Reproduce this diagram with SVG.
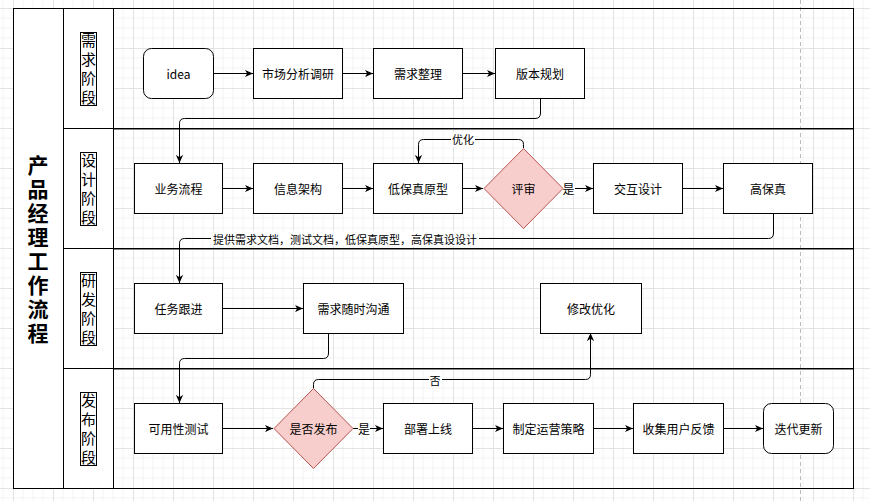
<svg xmlns="http://www.w3.org/2000/svg" width="870" height="501" viewBox="0 0 870 501">
<defs>
<pattern id="grid" x="13" y="8" width="40" height="40" patternUnits="userSpaceOnUse">
<path d="M10,0 V40 M20,0 V40 M30,0 V40 M0,10 H40 M0,20 H40 M0,30 H40" stroke="#f3f3f3" stroke-width="1" fill="none"/>
<path d="M0.5,0 V40 M0,0.5 H40" stroke="#e3e3e3" stroke-width="1" fill="none"/>
</pattern>
<marker id="arr" viewBox="0 0 10 10" refX="9" refY="5" markerWidth="9" markerHeight="9" orient="auto" markerUnits="userSpaceOnUse">
<path d="M0,1 L9,5 L0,9 L2.5,5 Z" fill="#000"/>
</marker>
</defs>
<style>
.t{font-family:"Noto Sans CJK SC","Liberation Sans",sans-serif;font-size:12px;fill:#000;text-anchor:middle;dominant-baseline:central}
.s{font-family:"Noto Sans CJK SC","Liberation Sans",sans-serif;font-size:11px;fill:#000;text-anchor:middle;dominant-baseline:central}
.box{fill:#fff;stroke:#000;stroke-width:1}
.dia{fill:#f8cecc;stroke:#b85450;stroke-width:1}
.c{fill:none;stroke:#000;stroke-width:1;marker-end:url(#arr)}
.lane{font-family:"Noto Sans CJK SC","Liberation Sans",sans-serif;font-size:15px;letter-spacing:4px;fill:#000;text-anchor:middle;dominant-baseline:central;writing-mode:vertical-rl}
.ttl{font-family:"Noto Sans CJK SC","Liberation Sans",sans-serif;font-size:21px;letter-spacing:3px;font-weight:bold;fill:#000;text-anchor:middle;dominant-baseline:central;writing-mode:vertical-rl}
.lb{fill:#fff;stroke:none}
</style>
<rect width="870" height="501" fill="#fff"/>
<rect width="870" height="501" fill="url(#grid)"/>
<line x1="800.5" y1="0" x2="800.5" y2="501" stroke="#bbb" stroke-dasharray="4,3"/>

<g id="pool">
<rect x="13.5" y="8.5" width="100" height="480" fill="#fff" stroke="none"/>
<rect x="13.5" y="8.5" width="840" height="480" fill="none" stroke="#000"/>
<line x1="63.5" y1="8" x2="63.5" y2="488" stroke="#000"/>
<line x1="113.5" y1="8" x2="113.5" y2="488" stroke="#000"/>
<line x1="63" y1="128.5" x2="854" y2="128.5" stroke="#000"/>
<line x1="63" y1="248.5" x2="854" y2="248.5" stroke="#000"/>
<line x1="63" y1="368.5" x2="854" y2="368.5" stroke="#000"/>
<line x1="114" y1="129.5" x2="853" y2="129.5" stroke="#888"/>
<line x1="114" y1="249.5" x2="853" y2="249.5" stroke="#888"/>
<line x1="114" y1="369.5" x2="853" y2="369.5" stroke="#888"/>
<text class="ttl" x="38" y="250.5">产品经理工作流程</text>
</g>

<g id="lane1">
<rect x="80.5" y="32.5" width="16" height="73" fill="#fff" stroke="#000"/>
<text class="lane" x="88.5" y="71">需求阶段</text>
</g>
<g id="lane2">
<rect x="80.5" y="152.5" width="16" height="73" fill="#fff" stroke="#000"/>
<text class="lane" x="88.5" y="191">设计阶段</text>
</g>
<g id="lane3">
<rect x="80.5" y="272.5" width="16" height="73" fill="#fff" stroke="#000"/>
<text class="lane" x="88.5" y="311">研发阶段</text>
</g>
<g id="lane4">
<rect x="80.5" y="392.5" width="16" height="73" fill="#fff" stroke="#000"/>
<text class="lane" x="88.5" y="431">发布阶段</text>
</g>

<g id="connectors">
<path class="c" d="M213,73.5 H253"/>
<path class="c" d="M343,73.5 H373"/>
<path class="c" d="M463,73.5 H495"/>
<path class="c" d="M540.5,98 V113 Q540.5,118.5 535,118.5 H184.5 Q179.5,118.5 179.5,123.5 V163"/>
<path class="c" d="M222,188.5 H253"/>
<path class="c" d="M343,188.5 H373"/>
<path class="c" d="M463,188.5 H483"/>
<path class="c" d="M563,188.5 H593"/>
<path class="c" d="M683,188.5 H723"/>
<path class="c" d="M523.5,148 V144.5 Q523.5,139.5 518.5,139.5 H423.5 Q418.5,139.5 418.5,144.5 V163"/>
<path class="c" d="M773.5,213 V233 Q773.5,238.5 768.5,238.5 H184.5 Q179.5,238.5 179.5,243.5 V283"/>
<path class="c" d="M222,308.5 H303"/>
<path class="c" d="M328.5,333 V353 Q328.5,358.5 323.5,358.5 H184.5 Q179.5,358.5 179.5,363.5 V403"/>
<path class="c" d="M222,428.5 H273"/>
<path class="c" d="M353,428.5 H383"/>
<path class="c" d="M472,428.5 H503"/>
<path class="c" d="M593,428.5 H633"/>
<path class="c" d="M723,428.5 H763"/>
<path class="c" d="M313.5,388 V384.5 Q313.5,379.5 318.5,379.5 H585.5 Q590.5,379.5 590.5,374.5 V333"/>
<rect class="lb" x="451" y="132" width="24" height="15"/>
<text class="s" x="463" y="139">优化</text>
<rect class="lb" x="562" y="181" width="13" height="15"/>
<text class="t" x="568.5" y="188.5">是</text>
<rect class="lb" x="211" y="231" width="268" height="15"/>
<text class="s" x="345" y="238.5">提供需求文档，测试文档，低保真原型，高保真设设计</text>
<rect class="lb" x="358" y="421" width="12" height="15"/>
<text class="t" x="364" y="428.5">是</text>
<rect class="lb" x="429" y="372" width="13" height="15"/>
<text class="s" x="435" y="379.5">否</text>
</g>

<g id="idea"><rect class="box" x="143.5" y="48.5" width="70" height="50" rx="8"/><text class="t" x="178.5" y="73.5">idea</text></g>
<g id="market"><rect class="box" x="253.5" y="48.5" width="89" height="50"/><text class="t" x="298" y="73.5">市场分析调研</text></g>
<g id="req"><rect class="box" x="373.5" y="48.5" width="89" height="50"/><text class="t" x="418" y="73.5">需求整理</text></g>
<g id="plan"><rect class="box" x="495.5" y="48.5" width="89" height="50"/><text class="t" x="540" y="73.5">版本规划</text></g>

<g id="biz"><rect class="box" x="134.5" y="163.5" width="88" height="50"/><text class="t" x="178.5" y="188.5">业务流程</text></g>
<g id="info"><rect class="box" x="253.5" y="163.5" width="89" height="50"/><text class="t" x="298" y="188.5">信息架构</text></g>
<g id="lofi"><rect class="box" x="373.5" y="163.5" width="89" height="50"/><text class="t" x="418" y="188.5">低保真原型</text></g>
<g id="review"><path class="dia" d="M523.5,148.5 L563,188.5 L523.5,228.5 L484,188.5 Z"/><text class="t" x="523.5" y="188.5">评审</text></g>
<g id="ixd"><rect class="box" x="593.5" y="163.5" width="89" height="50"/><text class="t" x="638" y="188.5">交互设计</text></g>
<g id="hifi"><rect class="box" x="723.5" y="163.5" width="89" height="50"/><text class="t" x="768" y="188.5">高保真</text></g>

<g id="track"><rect class="box" x="134.5" y="283.5" width="88" height="50"/><text class="t" x="178.5" y="308.5">任务跟进</text></g>
<g id="comm"><rect class="box" x="303.5" y="283.5" width="100" height="50"/><text class="t" x="353.5" y="308.5">需求随时沟通</text></g>
<g id="fix"><rect class="box" x="540.5" y="283.5" width="101" height="50"/><text class="t" x="591" y="308.5">修改优化</text></g>

<g id="test"><rect class="box" x="134.5" y="403.5" width="88" height="50"/><text class="t" x="178.5" y="428.5">可用性测试</text></g>
<g id="release"><path class="dia" d="M313.5,388.5 L353,428.5 L313.5,468.5 L274,428.5 Z"/><text class="t" x="313.5" y="428.5">是否发布</text></g>
<g id="deploy"><rect class="box" x="383.5" y="403.5" width="89" height="50"/><text class="t" x="428" y="428.5">部署上线</text></g>
<g id="ops"><rect class="box" x="503.5" y="403.5" width="90" height="50"/><text class="t" x="548.5" y="428.5">制定运营策略</text></g>
<g id="feedback"><rect class="box" x="633.5" y="403.5" width="90" height="50"/><text class="t" x="678.5" y="428.5">收集用户反馈</text></g>
<g id="iterate"><rect class="box" x="763.5" y="403.5" width="70" height="50" rx="8"/><text class="t" x="798.5" y="428.5">迭代更新</text></g>
</svg>
